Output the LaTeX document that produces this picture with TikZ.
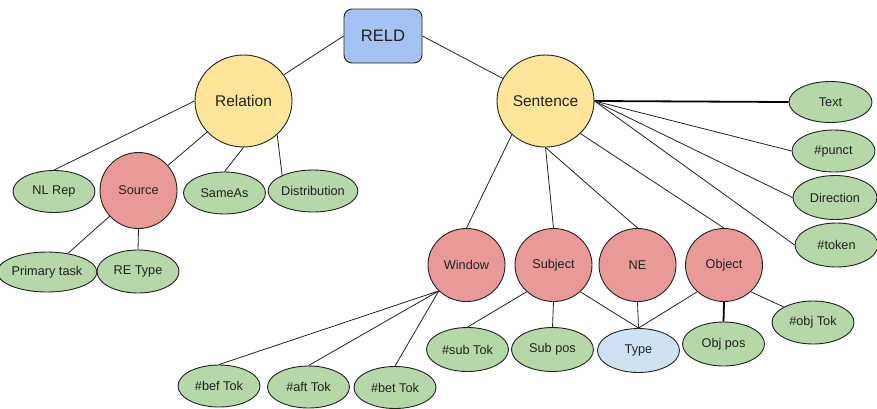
\documentclass[tikz,border=0pt]{standalone}
\usepackage{fontspec}
\setmainfont{Liberation Sans}
\usetikzlibrary{shapes.geometric}
\definecolor{cyel}{HTML}{FFE599}
\definecolor{cred}{HTML}{EA9999}
\definecolor{cgreen}{HTML}{B6D7A8}
\definecolor{cblue}{HTML}{A4C2F4}
\definecolor{clight}{HTML}{CFE2F3}
\definecolor{cline}{HTML}{222222}
\begin{document}
\begin{tikzpicture}[x=1pt,y=-1pt,
  base/.style={draw=cline, line width=0.9pt, inner sep=0pt, text=cline},
  leaf/.style={base, ellipse, fill=cgreen, minimum width=82pt, minimum height=42pt, font=\fontsize{12.7}{14}\selectfont},
  midnode/.style={base, ellipse, fill=cred, minimum width=77pt, minimum height=73pt, font=\fontsize{12.7}{14}\selectfont},
  topnode/.style={base, ellipse, fill=cyel, minimum width=97pt, minimum height=92pt, font=\fontsize{15.5}{18}\selectfont},
  rootnode/.style={base, rectangle, rounded corners=8pt, fill=cblue, minimum width=78pt, minimum height=54pt, font=\fontsize{16.6}{19}\selectfont},
  link/.style={draw=cline, line width=0.8pt},
  boldlink/.style={draw=black, line width=1.8pt}]
\useasboundingbox (0,0) rectangle (877,408);
% nodes
\node[rootnode] (reld) at (383,36) {RELD};
\node[topnode] (relation) at (243.5,101) {Relation};
\node[topnode] (sentence) at (545.5,101) {Sentence};
\node[leaf] (nlrep) at (54,191.5) {NL Rep};
\node[midnode, minimum height=76pt] (source) at (138.5,190.5) {Source};
\node[leaf] (sameas) at (224.5,193) {SameAs};
\node[leaf] (dist) at (313,191) {Distribution};
\node[leaf, minimum height=40pt] (primary) at (47,272) {Primary task};
\node[leaf, minimum height=43pt] (retype) at (138,271.5) {RE Type};
\node[midnode] (window) at (466.5,265) {Window};
\node[midnode] (subject) at (553.5,265) {Subject};
\node[midnode] (ne) at (637.5,265) {NE};
\node[midnode] (object) at (724,265) {Object};
\node[leaf, minimum width=83pt, minimum height=41pt] (ntext) at (830.5,102) {Text};
\node[leaf, minimum width=83pt] (punct) at (833.5,151) {\#punct};
\node[leaf, minimum width=84pt, minimum height=44pt] (direction) at (835,197.5) {Direction};
\node[leaf, minimum width=83pt, minimum height=44pt] (token) at (836.5,245) {\#token};
\node[leaf, minimum height=44pt] (subtok) at (467.5,349.5) {\#sub Tok};
\node[leaf, minimum height=44pt] (subpos) at (552.5,349.5) {Sub pos};
\node[leaf, minimum height=44pt, fill=clight] (type) at (638.5,350.5) {Type};
\node[leaf, minimum height=44pt] (objpos) at (723.5,344) {Obj pos};
\node[leaf, minimum height=43pt] (objtok) at (813,322.5) {\#obj Tok};
\node[leaf] (bef) at (219,386) {\#bef Tok};
\node[leaf] (aft) at (308.5,387) {\#aft Tok};
\node[leaf] (bet) at (395,387.5) {\#bet Tok};
% connectors
\draw[link] (reld.west) -- (relation);
\draw[link] (reld.east) -- (sentence);
\draw[link] (relation.west) -- (nlrep.north);
\draw[link] (relation) -- (source);
\draw[link] (relation.south) -- (sameas.north);
\draw[link] (relation.-45) -- (dist.153);
\draw[link] (source) -- (primary);
\draw[link] (source.south) -- (retype.north);
\draw[boldlink] (sentence.east) -- (ntext.west);
\draw[link] (sentence.east) -- (punct.west);
\draw[link] (sentence.east) -- (direction.west);
\draw[link] (sentence.east) -- (token.west);
\draw[link] (sentence.-135) -- (window.north);
\draw[link] (sentence.south) -- (subject.north);
\draw[link] (sentence.south) -- (ne.north);
\draw[link] (sentence.-43) -- (object.north);
\draw[link] (window.-137) -- (bef.north);
\draw[link] (window.-137) -- (aft.north);
\draw[link] (window.-137) -- (bet.north);
\draw[link] (subject.-135) -- (subtok.north);
\draw[link] (subject.south) -- (subpos.north);
\draw[link] (subject.-45) -- (type.north);
\draw[link] (ne.south) -- (type.north);
\draw[link] (object.-135) -- (type.north);
\draw[boldlink] (object.south) -- (objpos.north);
\draw[link] (object.-45) -- (objtok.152);
\end{tikzpicture}
\end{document}
